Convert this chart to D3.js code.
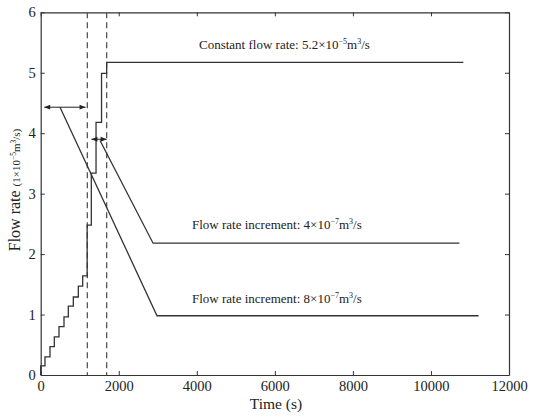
<!DOCTYPE html>
<html><head><meta charset="utf-8">
<script src="https://cdn.jsdelivr.net/npm/d3@7"></script>
<style>
body{margin:0;background:#fff;}
text{font-family:"Liberation Serif","Times New Roman",serif;fill:#222;}
</style></head>
<body><svg id="c" width="534" height="419"></svg>
<script>
// Data
const xTicks = [0,2000,4000,6000,8000,10000,12000];
const yTicks = [0,1,2,3,4,5,6];
// staircase (constant flow rate test)
const stepTimes  = [0,0,110,238,349,469,597,708,836,964,1076,1190,1297,1418,1559,1690,10830];
const stepValues = [0,0.15,0.30,0.47,0.63,0.80,0.96,1.14,1.29,1.47,1.64,2.48,3.34,4.18,4.99,5.17,5.17];
// flow rate increment 8e-7
const dec1Times  = [495,2980,11220];
const dec1Values = [4.43,0.98,0.98];
// flow rate increment 4e-7
const dec2Times  = [1520,2880,10730];
const dec2Values = [3.88,2.18,2.18];
// dashed reference times
const dashTimes = [1195,1690];
// double arrows [t0,t1,value]
const arrowStarts = [90,1300];
const arrowEnds   = [1150,1690];
const arrowValues = [4.43,3.90];

const svg = d3.select("#c");
const L=40.7,R=509,T=12.3,B=375;
const x = d3.scaleLinear().domain([0,12000]).range([L,R]);
const y = d3.scaleLinear().domain([0,6]).range([B,T]);

const defs = svg.append("defs");
defs.append("marker").attr("id","ah").attr("viewBox","0 0 10 10").attr("refX",10).attr("refY",5)
  .attr("markerWidth",9).attr("markerHeight",6).attr("markerUnits","userSpaceOnUse").attr("orient","auto-start-reverse")
  .append("path").attr("d","M0,1 L10,5 L0,9 Z").attr("fill","#222");

// axes
const fmt = d3.format("d");
const ax = svg.append("g");
ax.append("g").attr("transform",`translate(0,${B})`)
  .call(d3.axisBottom(x).tickValues(xTicks).tickFormat(fmt).tickSizeInner(-4).tickSizeOuter(0).tickPadding(6));
ax.append("g").attr("transform",`translate(0,${T})`)
  .call(d3.axisTop(x).tickValues(xTicks).tickFormat("").tickSizeInner(-4).tickSizeOuter(0));
ax.append("g").attr("transform",`translate(${L},0)`)
  .call(d3.axisLeft(y).tickValues(yTicks).tickFormat(fmt).tickSizeInner(-4).tickSizeOuter(0).tickPadding(5));
ax.append("g").attr("transform",`translate(${R},0)`)
  .call(d3.axisRight(y).tickValues(yTicks).tickFormat("").tickSizeInner(-4).tickSizeOuter(0));
ax.selectAll("path.domain").attr("stroke","#333").attr("stroke-width",1.2);
ax.selectAll(".tick line").attr("stroke","#333");
ax.selectAll(".tick text").attr("font-family","Liberation Serif").attr("font-size",14.5).attr("fill","#333");

// dashed lines
svg.append("g").selectAll("line").data(dashTimes).join("line")
  .attr("x1",d=>x(d)).attr("x2",d=>x(d)).attr("y1",y(6)).attr("y2",y(0))
  .attr("stroke","#555").attr("stroke-width",1.3).attr("stroke-dasharray","6,4");

// lines
const line = d3.line().x(d=>x(d[0])).y(d=>y(d[1]));
svg.append("path").attr("d",line.curve(d3.curveStepAfter)(stepTimes.map((t,i)=>[t,stepValues[i]])))
  .attr("fill","none").attr("stroke","#333").attr("stroke-width",1.3);
const line2 = d3.line().x(d=>x(d[0])).y(d=>y(d[1]));
svg.append("path").attr("d",line2(dec1Times.map((t,i)=>[t,dec1Values[i]])))
  .attr("fill","none").attr("stroke","#333").attr("stroke-width",1.3);
svg.append("path").attr("d",line2(dec2Times.map((t,i)=>[t,dec2Values[i]])))
  .attr("fill","none").attr("stroke","#333").attr("stroke-width",1.3);

// arrows
svg.append("g").selectAll("line").data(arrowValues).join("line")
  .attr("x1",(d,i)=>x(arrowStarts[i])).attr("x2",(d,i)=>x(arrowEnds[i]))
  .attr("y1",d=>y(d)).attr("y2",d=>y(d))
  .attr("stroke","#222").attr("stroke-width",1)
  .attr("marker-start","url(#ah)").attr("marker-end","url(#ah)");

// annotations
function ann(tx,ty,pre,base,exp,unitExp){
  const t = svg.append("text").attr("x",tx).attr("y",ty).attr("font-size",13).attr("fill","#333");
  t.append("tspan").text(pre+base+"×10");
  t.append("tspan").attr("dy",-5).attr("font-size",8).text(exp);
  t.append("tspan").attr("dy",5).text("m");
  t.append("tspan").attr("dy",-5).attr("font-size",8).text(unitExp);
  t.append("tspan").attr("dy",5).text("/s");
}
ann(199,49,"Constant flow rate: ","5.2","−5","3");
ann(192,229,"Flow rate increment: ","4","−7","3");
ann(192,303,"Flow rate increment: ","8","−7","3");

// axis labels
svg.append("text").attr("x",276).attr("y",409).attr("text-anchor","middle").attr("font-size",15.5).attr("fill","#333").text("Time (s)");
const yl = svg.append("text").attr("transform","translate(20,190) rotate(-90)").attr("text-anchor","middle").attr("fill","#333");
yl.append("tspan").attr("font-size",16).text("Flow rate  ");
yl.append("tspan").attr("font-size",11).text("(1×10");
yl.append("tspan").attr("font-size",7.5).attr("dy",-4).text("−5");
yl.append("tspan").attr("font-size",11).attr("dy",4).text("m");
yl.append("tspan").attr("font-size",7.5).attr("dy",-4).text("3");
yl.append("tspan").attr("font-size",11).attr("dy",4).text("/s)");
</script></body></html>
